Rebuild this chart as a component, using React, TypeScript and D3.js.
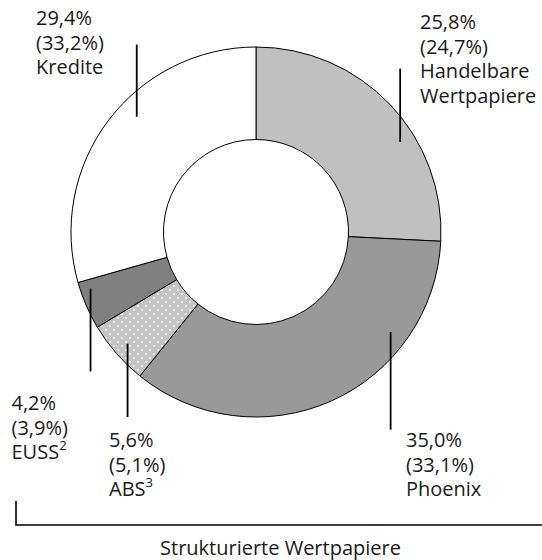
import React from "react";
import * as d3 from "d3";

// Anteile in % (Vorjahr in Klammern)
const categories = ["Handelbare Wertpapiere", "Phoenix", "ABS", "EUSS", "Kredite"];
const values = [25.8, 35.0, 5.6, 4.2, 29.4];
const priorValues = [24.7, 33.1, 5.1, 3.9, 33.2];
const footnotes = ["", "", "3", "2", ""];
const bracketLabel = "Strukturierte Wertpapiere";

const fills = ["#c0c0c0", "#999999", "url(#dots)", "#808080", "#ffffff"];

// Beschriftungen: Ankerpunkt im Segment (Winkel in Grad, Radius), Linienende, Textposition
const labelLayout = [
  { angle: 58, radius: 170, lineTo: 68.6, x: 420, y: 29, lines: ["Handelbare", "Wertpapiere"] },
  { angle: 126.6, radius: 167.7, lineTo: 429.6, x: 406, y: 447, lines: ["Phoenix"] },
  { angle: 229, radius: 170.2, lineTo: 417, x: 109, y: 447, lines: ["ABS"] },
  { angle: 251.1, radius: 174.9, lineTo: 371.4, x: 11.5, y: 410, lines: ["EUSS"] },
  { angle: 314, radius: 165.8, lineTo: 44.6, x: 36, y: 25, lines: ["Kredite"] },
];

const width = 542;
const height = 560;
const cx = 256;
const cy = 232;
const outerR = 185;
const innerR = 92.5;
const lineH = 24.5;
const font = "'Open Sans', 'Noto Sans', sans-serif";

const fmt = (v: number) => v.toFixed(1).replace(".", ",") + "%";

const App: React.FC = () => {
  const pie = d3
    .pie<number>()
    .sort(null)
    .value((d) => d);
  const arcs = pie(values);
  const arc = d3
    .arc<d3.PieArcDatum<number>>()
    .innerRadius(innerR)
    .outerRadius(outerR);

  return (
    <svg
      width={width}
      height={height}
      style={{ position: "absolute", left: 0, top: 0, background: "#fff" }}
      fontFamily={font}
    >
      <defs>
        <pattern id="dots" width={8} height={8} patternUnits="userSpaceOnUse">
          <rect width={8} height={8} fill="#c4c4c4" />
          <circle cx={2} cy={2} r={0.9} fill="#ffffff" />
          <circle cx={6} cy={6} r={0.9} fill="#ffffff" />
        </pattern>
      </defs>

      <g transform={`translate(${cx},${cy})`}>
        {arcs.map((a, i) => (
          <path
            key={categories[i]}
            d={arc(a) || ""}
            fill={fills[i]}
            stroke="#000"
            strokeWidth={1}
          />
        ))}
      </g>

      {labelLayout.map((l, i) => {
        const [px, py] = d3.pointRadial((l.angle * Math.PI) / 180, l.radius);
        const x = cx + px;
        const y = cy + py;
        const textLines = [fmt(values[i]), `(${fmt(priorValues[i])})`, ...l.lines];
        return (
          <g key={categories[i]}>
            <line x1={x} y1={y} x2={x} y2={l.lineTo} stroke="#000" strokeWidth={1.8} />
            <text x={l.x} y={l.y} fontSize={20} fill="#1a1a1a">
              {textLines.map((t, j) => (
                <tspan key={j} x={l.x} y={l.y + j * lineH}>
                  {t}
                  {j === textLines.length - 1 && footnotes[i] ? (
                    <tspan fontSize={13} dy={-9}>
                      {footnotes[i]}
                    </tspan>
                  ) : null}
                </tspan>
              ))}
            </text>
          </g>
        );
      })}

      <path d="M16,501V525H542" fill="none" stroke="#000" strokeWidth={1.6} />
      <text x={280.5} y={555} fontSize={20} textAnchor="middle" fill="#1a1a1a">
        {bracketLabel}
      </text>
    </svg>
  );
};

export default App;
